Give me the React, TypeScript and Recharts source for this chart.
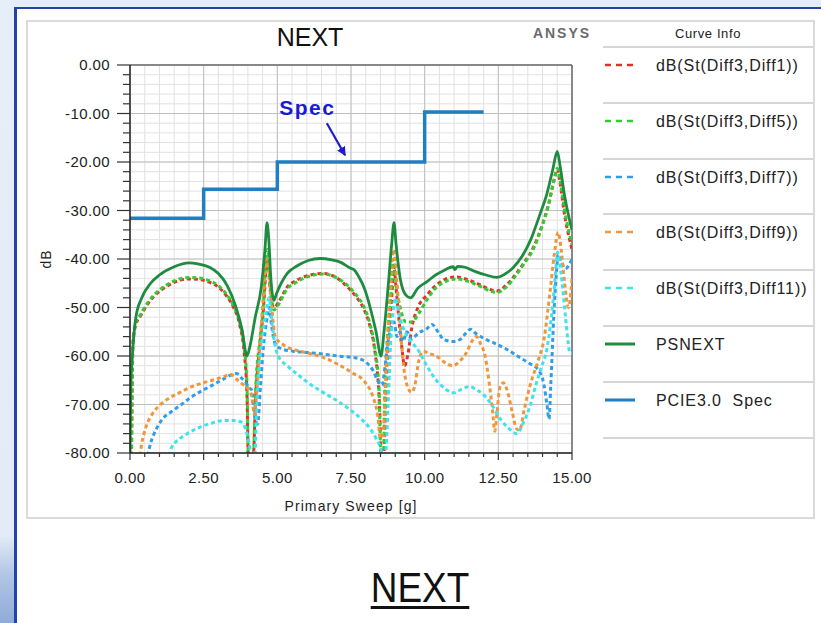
import React from 'react';
import { LineChart, Line, XAxis, YAxis, CartesianGrid, ReferenceLine, ReferenceDot } from 'recharts';

// axis ticks (minor + major)
const xTicks = [0, 0.5, 1, 1.5, 2, 2.5, 3, 3.5, 4, 4.5, 5, 5.5, 6, 6.5, 7, 7.5, 8, 8.5, 9, 9.5, 10, 10.5, 11, 11.5, 12, 12.5, 13, 13.5, 14, 14.5, 15];
const xMajor = [0, 2.5, 5, 7.5, 10, 12.5, 15];
const yTicks = [-80, -78, -76, -74, -72, -70, -68, -66, -64, -62, -60, -58, -56, -54, -52, -50, -48, -46, -44, -42, -40, -38, -36, -34, -32, -30, -28, -26, -24, -22, -20, -18, -16, -14, -12, -10, -8, -6, -4, -2, 0];
const yMajor = [-80, -70, -60, -50, -40, -30, -20, -10, 0];

// dB(St(Diff3,Diff1))
const diff1Freq = [0.05, 0.1, 0.2, 0.35, 0.6, 0.8, 1.2, 1.5, 2.0, 2.3, 2.7, 3.0, 3.3, 3.5, 3.72, 3.87, 3.97, 4.02, 4.17, 4.27, 4.42, 4.52, 4.62, 4.67, 4.75, 4.88, 5.03, 5.33, 5.65, 6.05, 6.55, 7.05, 7.35, 7.65, 7.95, 8.15, 8.3, 8.45, 8.55, 8.6, 8.68, 8.78, 8.88, 8.96, 9.03, 9.12, 9.22, 9.32, 9.42, 9.57, 9.77, 10.07, 10.37, 10.77, 11.07, 11.47, 11.87, 12.27, 12.45, 12.77, 13.07, 13.37, 13.7, 14.0, 14.2, 14.4, 14.5, 14.6, 14.75, 14.9, 15.0];
const diff1Db = [-82, -57.5, -53.5, -51.8, -49.3, -47.8, -45.8, -44.8, -44.1, -44.2, -44.8, -45.8, -47.8, -49.8, -53.5, -59, -68, -82, -82, -68, -57, -51, -42, -40, -46, -50, -49, -45.8, -44.4, -43.4, -43, -44, -45.6, -47.6, -50.5, -54, -58.5, -68, -82, -82, -68, -56, -48, -42, -46, -52, -58, -62, -60, -54, -50, -47.5, -45.5, -44, -43.7, -44.3, -45.3, -46.4, -46.6, -45.4, -43.3, -40.8, -37.5, -32.8, -28.8, -23.5, -21.5, -24.5, -31, -35.5, -38];

// dB(St(Diff3,Diff5))
const diff5Freq = [0.05, 0.1, 0.2, 0.35, 0.6, 0.8, 1.2, 1.5, 2.0, 2.3, 2.7, 3.0, 3.3, 3.5, 3.72, 3.87, 3.97, 4.02, 4.17, 4.27, 4.42, 4.52, 4.62, 4.67, 4.75, 4.88, 5.03, 5.33, 5.65, 6.05, 6.55, 7.05, 7.35, 7.65, 7.95, 8.15, 8.3, 8.45, 8.52, 8.6, 8.65, 8.75, 8.85, 8.95, 9.03, 9.17, 9.37, 9.57, 9.77, 10.07, 10.37, 10.77, 11.07, 11.47, 11.87, 12.27, 12.45, 12.77, 13.07, 13.37, 13.7, 14.0, 14.2, 14.4, 14.5, 14.6, 14.75, 14.9, 15.0];
const diff5Db = [-82, -57, -53, -51.5, -49, -47.5, -45.5, -44.5, -43.8, -43.9, -44.5, -45.5, -47.5, -49.5, -53, -58, -66, -82, -82, -66, -56, -50, -40, -38, -45, -50.5, -49.5, -46.2, -44.8, -43.6, -43.1, -44, -45.3, -47.2, -50, -53.5, -58, -67, -82, -82, -66, -55, -48, -40, -45, -50, -53, -53, -51.5, -48.5, -46, -44.5, -44.1, -44.6, -45.6, -46.7, -46.9, -45.8, -43.6, -41, -37.8, -33, -29, -23.5, -21.3, -24, -30, -34.5, -37];

// dB(St(Diff3,Diff7))
const diff7Freq = [0.55, 0.7, 0.9, 1.1, 1.4, 1.7, 2.0, 2.4, 2.8, 3.1, 3.4, 3.62, 3.78, 3.93, 4.03, 4.13, 4.23, 4.33, 4.43, 4.53, 4.63, 4.73, 4.81, 4.93, 5.13, 5.53, 6.04, 6.55, 7.05, 7.55, 7.85, 8.05, 8.25, 8.4, 8.55, 8.66, 8.76, 8.86, 8.96, 9.06, 9.16, 9.26, 9.4, 9.55, 9.8, 10.05, 10.25, 10.45, 10.65, 10.95, 11.2, 11.4, 11.55, 11.75, 12.05, 12.35, 12.75, 13.15, 13.55, 13.85, 14.05, 14.15, 14.22, 14.28, 14.38, 14.48, 14.53, 14.63, 14.78, 14.92, 15.0];
const diff7Db = [-82, -78, -75, -73, -71.5, -70.2, -68.8, -67.3, -66, -65, -64, -63.6, -64.5, -65.5, -66.5, -67, -72, -74, -66, -58, -53, -50, -54, -57.5, -58.5, -59, -59.3, -59.6, -60, -60.3, -60.7, -61.5, -63, -65, -66, -62, -57, -54, -53, -56, -55, -57, -55, -56.5, -55.2, -54.5, -53.5, -55, -56.6, -57, -56.6, -55.3, -54.5, -55.4, -56.5, -57.3, -58.5, -60, -61.5, -62.8, -66, -70, -73, -66, -52, -42, -39, -40.5, -42, -41, -40];

// dB(St(Diff3,Diff9))
const diff9Freq = [0.3, 0.4, 0.55, 0.75, 1.0, 1.3, 1.7, 2.1, 2.5, 2.9, 3.2, 3.42, 3.62, 3.82, 3.97, 4.12, 4.22, 4.32, 4.42, 4.52, 4.63, 4.71, 4.81, 4.93, 5.23, 5.63, 6.04, 6.55, 7.05, 7.55, 7.95, 8.25, 8.4, 8.5, 8.6, 8.7, 8.8, 8.9, 8.97, 9.05, 9.15, 9.25, 9.4, 9.55, 9.65, 9.8, 9.95, 10.15, 10.4, 10.65, 10.95, 11.2, 11.4, 11.6, 11.75, 11.9, 12.05, 12.2, 12.3, 12.38, 12.45, 12.55, 12.67, 12.82, 12.97, 13.12, 13.22, 13.38, 13.58, 13.85, 14.05, 14.25, 14.4, 14.53, 14.63, 14.75, 14.88, 14.96, 15.0];
const diff9Db = [-82, -78, -74.5, -72, -70.2, -68.8, -67.5, -66.3, -65.5, -64.8, -64.2, -63.8, -64.8, -65.8, -66.5, -68, -72, -66, -57, -48, -40, -42, -50, -56, -57.8, -58.8, -59.4, -60.3, -61.7, -63.5, -65.2, -68.5, -72, -77, -75, -62, -50, -40, -38, -44, -52, -60, -66, -67.5, -66.5, -61, -59, -59.5, -60, -61.2, -62, -61, -59.5, -57, -56, -57.5, -60, -66, -71, -75.5, -72, -66.5, -65.5, -67.5, -71.5, -75, -75.3, -71, -66, -61, -56.5, -47, -39, -34.5, -38, -45, -50, -47, -44];

// dB(St(Diff3,Diff11))
const diff11Freq = [1.27, 1.4, 1.7, 2.0, 2.4, 2.8, 3.2, 3.5, 3.77, 3.92, 4.07, 4.14, 4.22, 4.32, 4.42, 4.52, 4.62, 4.72, 4.8, 4.9, 5.03, 5.33, 5.63, 6.04, 6.55, 7.05, 7.45, 7.85, 8.15, 8.35, 8.5, 8.6, 8.68, 8.76, 8.84, 8.91, 9.01, 9.11, 9.26, 9.46, 9.77, 10.07, 10.37, 10.67, 10.97, 11.27, 11.52, 11.77, 11.97, 12.27, 12.57, 12.87, 13.12, 13.37, 13.57, 13.77, 13.95, 14.15, 14.3, 14.4, 14.52, 14.63, 14.78, 14.93, 15.0];
const diff11Db = [-82, -79, -77, -75.8, -74.6, -73.8, -73.3, -73.3, -73.6, -75, -79, -82, -82, -68, -60, -55, -51, -48, -52, -57, -60, -62, -63.5, -65.5, -67.5, -69.3, -71, -73, -75, -77, -79, -82, -80, -70, -58, -52, -48, -51, -54, -56.4, -58.7, -62, -64.8, -66.6, -67.6, -66.8, -66.3, -67, -67.8, -70, -73, -75, -76, -73.5, -70.4, -66, -62.5, -58.5, -52, -46, -38.6, -43, -52, -59.3, -59.5];

// PSNEXT
const psnextFreq = [0, 0.03, 0.08, 0.2, 0.4, 0.7, 1.0, 1.5, 2.0, 2.3, 2.7, 3.0, 3.3, 3.6, 3.8, 3.97, 4.07, 4.25, 4.45, 4.58, 4.65, 4.71, 4.78, 4.88, 4.98, 5.13, 5.33, 5.65, 6.05, 6.45, 6.85, 7.15, 7.45, 7.6, 7.75, 7.95, 8.15, 8.35, 8.52, 8.62, 8.77, 8.88, 8.96, 9.03, 9.17, 9.37, 9.52, 9.77, 10.07, 10.37, 10.67, 10.97, 11.02, 11.12, 11.37, 11.68, 12.08, 12.45, 12.7, 13.0, 13.3, 13.6, 13.9, 14.15, 14.35, 14.5, 14.6, 14.75, 14.9, 15.0];
const psnextDb = [-80, -66, -60, -52, -48, -45, -43.3, -41.6, -40.8, -41, -41.7, -43, -45.5, -50, -54.5, -60, -58, -52, -46, -38, -32.5, -36, -44, -48.5, -47, -45, -43, -41.5, -40.3, -39.9, -40.2, -40.7, -41.8, -42.2, -43.5, -46, -50, -55, -60, -55, -45, -37, -32.5, -37, -44, -47.5, -48, -46, -44.7, -43.3, -42.3, -41.6, -42.2, -41.5, -41.7, -42.5, -43.3, -43.8, -43.2, -41.8, -39.5, -36, -31, -26.5, -21.5, -17.8, -21, -27, -31.5, -34];

// PCIE3.0 Spec (step limit)
const specFreq = [0, 2.5, 5, 10, 12];
const specDb = [-31.6, -25.6, -20, -9.7, -9.7];

const toPoints = (f: number[], v: number[]) => f.map((x, i) => ({ f: x, v: v[i] }));

const series = [
  { name: 'dB(St(Diff3,Diff1))', color: '#e0302a', dashed: true, width: 3, pts: toPoints(diff1Freq, diff1Db) },
  { name: 'dB(St(Diff3,Diff5))', color: '#33cc33', dashed: true, width: 3, pts: toPoints(diff5Freq, diff5Db) },
  { name: 'dB(St(Diff3,Diff7))', color: '#2f9ee6', dashed: true, width: 3, pts: toPoints(diff7Freq, diff7Db) },
  { name: 'dB(St(Diff3,Diff9))', color: '#f0963c', dashed: true, width: 3, pts: toPoints(diff9Freq, diff9Db) },
  { name: 'dB(St(Diff3,Diff11))', color: '#3ee3ec', dashed: true, width: 3, pts: toPoints(diff11Freq, diff11Db) },
  { name: 'PSNEXT', color: '#1e8c40', dashed: false, width: 2.8, pts: toPoints(psnextFreq, psnextDb) },
];
const spec = { name: 'PCIE3.0  Spec', color: '#1f7fc0', pts: toPoints(specFreq, specDb) };

const FONT = 'Arial, "Liberation Sans", sans-serif';

const XTick = (props: any) => {
  const { x, y, payload } = props;
  const major = xMajor.includes(payload.value);
  return (
    <g>
      <line x1={x} x2={x} y1={y} y2={y + (major ? 7 : 4)} stroke="#333" strokeWidth={1.2} />
      {major && (
        <text x={x} y={y + 30} textAnchor="middle" fontSize={15} fill="#222" letterSpacing={0.4}>
          {payload.value.toFixed(2)}
        </text>
      )}
    </g>
  );
};

const YTick = (props: any) => {
  const { x, y, payload } = props;
  const major = yMajor.includes(payload.value);
  return (
    <g>
      <line x1={x - (major ? 13 : 7)} x2={x} y1={y} y2={y} stroke="#333" strokeWidth={1.2} />
      {major && (
        <text x={x - 20} y={y} dy="0.36em" textAnchor="end" fontSize={15} fill="#222" letterSpacing={0.4}>
          {payload.value.toFixed(2)}
        </text>
      )}
    </g>
  );
};

const LegendSymbol = ({ color, dashed }: { color: string; dashed: boolean }) => (
  <svg width={34} height={10} style={{ display: 'block' }}>
    <line x1={2} x2={32} y1={5} y2={5} stroke={color} strokeWidth={dashed ? 2.5 : 3} strokeDasharray={dashed ? '6 5' : undefined} />
  </svg>
);

const App: React.FC = () => {
  const legendItems = [...series.map((s) => ({ name: s.name, color: s.color, dashed: s.dashed })), { name: spec.name, color: spec.color, dashed: false }];

  return (
    <div style={{ position: 'absolute', left: 0, top: 0, width: 821, height: 623, overflow: 'hidden', background: '#e3ecf7', fontFamily: FONT }}>
      <div style={{ position: 'absolute', left: 0, top: 0, width: 14, height: 623, background: 'linear-gradient(180deg, #e6eef8 0%, #e2ebf6 86%, #b3c7e6 92%, #8eabd8 100%)' }} />
      <div style={{ position: 'absolute', left: 14, top: 7, width: 807, height: 616, background: '#fff', borderLeft: '3px solid #2443a5', borderTop: '2px solid #2443a5', boxSizing: 'border-box' }} />
      <div style={{ position: 'absolute', left: 26, top: 20, width: 789, height: 499, border: '2px solid #dadada', background: '#fff', boxSizing: 'border-box' }} />

      <div style={{ position: 'absolute', left: 250, top: 25, width: 120, textAlign: 'center', fontSize: 25, lineHeight: '25px', color: '#111' }}>NEXT</div>
      <div style={{ position: 'absolute', left: 502, top: 26, width: 120, textAlign: 'center', fontSize: 14, lineHeight: '14px', fontWeight: 700, letterSpacing: 2, color: '#6b6b6b' }}>ANSYS</div>

      <div style={{ position: 'absolute', left: 603, top: 21, width: 210 }}>
        <div style={{ height: 25, lineHeight: '25px', textAlign: 'center', fontSize: 13, letterSpacing: 0.6, color: '#222' }}>Curve Info</div>
        {legendItems.map((it) => (
          <div key={it.name} style={{ borderTop: '2px solid #d6d6d6', height: 55.8, display: 'flex', alignItems: 'flex-start', paddingTop: 7, boxSizing: 'border-box' }}>
            <div style={{ marginTop: 5 }}>
              <LegendSymbol color={it.color} dashed={it.dashed} />
            </div>
            <div style={{ marginLeft: 19, fontSize: 16, lineHeight: '22px', letterSpacing: 0.9, color: '#222', whiteSpace: 'pre' }}>{it.name}</div>
          </div>
        ))}
        <div style={{ borderTop: '2px solid #d6d6d6' }} />
      </div>

      <div style={{ position: 'absolute', left: 0, top: 0 }}>
        <LineChart width={600} height={530} margin={{ top: 65, right: 28, bottom: 47, left: 0 }}>
          <defs>
            <marker id="specArrow" viewBox="0 0 10 10" refX={9} refY={5} markerWidth={9} markerHeight={9} markerUnits="userSpaceOnUse" orient="auto">
              <path d="M0,0 L10,5 L0,10 z" fill="#1c1ccc" />
            </marker>
          </defs>
          <CartesianGrid horizontalValues={yTicks} verticalValues={xTicks} stroke="#e4e1e3" strokeWidth={1} />
          <CartesianGrid horizontalValues={yMajor} verticalValues={xMajor} stroke="#bfbfbf" strokeWidth={1} />
          <CartesianGrid horizontalValues={[0]} verticalValues={[15]} stroke="#6e6e6e" strokeWidth={1.5} />
          <XAxis
            type="number"
            dataKey="f"
            domain={[0, 15]}
            ticks={xTicks}
            interval={0}
            allowDataOverflow
            height={30}
            tick={XTick}
            tickLine={false}
            tickSize={0}
            tickMargin={0}
            axisLine={{ stroke: '#222', strokeWidth: 1.5 }}
            label={{ value: 'Primary Sweep [g]', position: 'bottom', offset: 18, fontSize: 14, fill: '#222', letterSpacing: 1.1 }}
          />
          <YAxis
            type="number"
            domain={[-80, 0]}
            ticks={yTicks}
            interval={0}
            allowDataOverflow
            width={130}
            tick={YTick}
            tickLine={false}
            tickSize={0}
            tickMargin={0}
            axisLine={{ stroke: '#222', strokeWidth: 1.5 }}
            label={{ value: 'dB', angle: -90, position: 'insideLeft', offset: 46, fontSize: 14, fill: '#222', letterSpacing: 1, style: { textAnchor: 'middle' } }}
          />
          {series.map((s) => (
            <Line
              key={s.name}
              data={s.pts}
              dataKey="v"
              name={s.name}
              type="monotone"
              stroke={s.color}
              strokeWidth={s.width}
              strokeDasharray={s.dashed ? '4 3' : undefined}
              dot={false}
              activeDot={false}
              isAnimationActive={false}
            />
          ))}
          <Line
            data={spec.pts}
            dataKey="v"
            name={spec.name}
            type="stepAfter"
            stroke={spec.color}
            strokeWidth={3.5}
            dot={false}
            activeDot={false}
            isAnimationActive={false}
          />
          <ReferenceLine
            segment={[{ x: 6.68, y: -12 }, { x: 7.3, y: -18.6 }]}
            shape={(p: any) => <line x1={p.x1} y1={p.y1} x2={p.x2} y2={p.y2} stroke="#1c1ccc" strokeWidth={2.2} markerEnd="url(#specArrow)" />}
          />
          <ReferenceDot
            x={6.02}
            y={-8.8}
            r={0}
            label={{ value: 'Spec', position: 'center', fontSize: 21, fontWeight: 700, fill: '#1a1ad6', letterSpacing: 1.5 }}
          />
        </LineChart>
      </div>

      <div style={{ position: 'absolute', left: 320, top: 567, width: 200, textAlign: 'center', fontSize: 42, lineHeight: '42px', color: '#111', transform: 'scaleX(0.88)' }}>
        <span style={{ textDecoration: 'underline', textDecorationThickness: '3px', textUnderlineOffset: '4px' }}>NEXT</span>
      </div>
    </div>
  );
};

export default App;
